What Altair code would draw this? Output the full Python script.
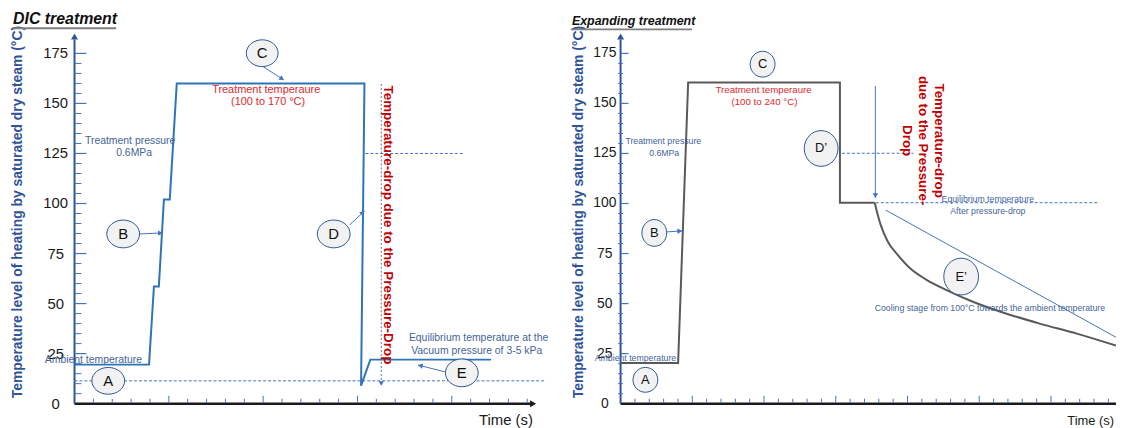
import math
import altair as alt
import pandas as pd

# ---------------- values ----------------
# DIC treatment: temperature profile (time in tick units, temperature in °C)
dic_time = [0, 3.95, 4.21, 4.47, 4.74, 5.05, 5.42, 15.37, 15.19, 15.68, 22.08]
dic_temp = [19.5, 19.5, 58.5, 58.5, 102, 102, 160, 160, 9, 22, 22]

# Expanding treatment: heating / holding / pressure drop
exp_time = [0, 4.01, 4.71, 15.29, 15.29, 17.72]
exp_temp = [20.3, 20.3, 160.5, 160.5, 100.4, 100.4]
# cooling stage curve
cool_time = [17.72, 17.9, 18.13, 18.62, 19.3, 20.2, 21.3, 22.8, 24.6, 26.8, 29.2, 31.8, 34.53]
cool_temp = [100.4, 95, 89.3, 81, 74.5, 67.5, 62, 56.5, 50.8, 45.2, 40, 35, 29]
# straight cooling guide line
guide_time = [18.48, 34.53]
guide_temp = [96.7, 33.2]

y_tick_values = [0, 25, 50, 75, 100, 125, 150, 175]
y_minor_values = [v for v in range(5, 175, 5) if v % 25]
dic_x_ticks = list(range(1, 25))
exp_x_ticks = list(range(1, 35))

dic_marker_labels = ["A", "B", "C", "D", "E"]
dic_marker_time = [1.79, 2.58, 9.95, 13.74, 20.53]
dic_marker_temp = [11.4, 84.8, 175.1, 84.8, 15.4]

exp_marker_labels = ["A", "B", "C", "D’", "E’"]
exp_marker_time = [1.73, 2.35, 9.90, 13.98, 23.74]
exp_marker_temp = [11.9, 85.3, 169.6, 127.5, 63.5]

# annotation texts and their anchors (time, temperature)
dic_red_notes = ["Treatment temperaure", "(100 to 170 °C)"]
dic_red_time = [10.16, 10.26]
dic_red_temp = [156.7, 150.8]
dic_blue_notes = ["Treatment pressure", "0.6MPa", "Ambient temperature",
                  "Equilibrium temperature at the", "Vacuum pressure of 3-5 kPa"]
dic_blue_time = [2.95, 3.16, 1.0, 21.42, 21.32]
dic_blue_temp = [131, 125, 21.8, 32.7, 26.3]
dic_drop_note = "Temperature-drop due to the Pressure-Drop"

exp_red_notes = ["Treatment temperaure", "(100 to 240 °C)"]
exp_red_time = [9.97, 10.03]
exp_red_temp = [156.7, 150.8]
exp_blue_notes = ["Treatment pressure", "0.6MPa", "Ambient temperature",
                  "Equilibrium temperature", "After pressure-drop",
                  "Cooling stage from 100°C towards the ambient temperature"]
exp_blue_time = [2.98, 3.04, 1.04, 25.6, 25.6, 25.74]
exp_blue_temp = [131.4, 125, 22.8, 102.2, 96.2, 47.6]
exp_drop_note = "Temperature-drop\ndue to the Pressure-\nDrop"

y_title = "Temperature level of heating by saturated dry steam (°C)"

# reference levels (dashed lines): start time, end time, temperature
dic_dash = [(0, 24.9, 11.4), (15.42, 20.68, 125)]
exp_dash = [(17.79, 33.36, 100.4), (15.43, 20.42, 125.1)]

# pointer arrows: (t1, v1) -> (t2, v2)
dic_arrows = [(9.95, 168.7, 11.1, 161.7), (3.47, 84.8, 4.68, 85.3),
              (14.58, 89.3, 15.37, 96.2), (19.63, 15.9, 18.21, 19.3)]
dic_drop_arrow = (16.26, 159.7, 16.26, 8.9)
exp_arrows = [(3.18, 85.8, 4.29, 86.3)]
exp_drop_arrow = (17.76, 158.7, 17.76, 102.8)

# ---------------- layout / style ----------------
W, H = 1116, 420
Y_DOM = [-11.41, 196.93]
L_DOM = [-3.526, 55.21]
R_DOM = [-42.699, 34.533]
KY = H / (Y_DOM[1] - Y_DOM[0])
KL = W / (L_DOM[1] - L_DOM[0])
KR = W / (R_DOM[1] - R_DOM[0])

SANS = "Liberation Sans, Arial, sans-serif"
BLUE = "#2E75B6"
AXBLUE = "#2F5597"
TICK = "#4472C4"
NOTE = "#44649A"
RED = "#C00000"
RED2 = "#E0282E"
GREY = "#595959"

dic_marker_size = [(33, 27), (33, 28), (32, 27), (33, 28), (33, 28)]
exp_marker_size = [(25, 25), (25, 27), (25, 26), (34, 36), (35, 37)]

Y = alt.Y("v:Q", scale=alt.Scale(domain=Y_DOM, nice=False, zero=False), axis=None)


def X(dom):
    return alt.X("t:Q", scale=alt.Scale(domain=dom, nice=False, zero=False), axis=None)


def df(**cols):
    return pd.DataFrame(cols)


def texts(x, labels, ts, vs, **mk):
    return alt.Chart(df(t=ts, v=vs, s=labels)).mark_text(**mk).encode(x=x, y=Y, text="s:N")


def segs(x, t1, v1, t2, v2, **mk):
    return alt.Chart(df(t=t1, v=v1, t2=t2, v2=v2)).mark_rule(**mk).encode(
        x=x, y=Y, x2="t2:Q", y2="v2:Q")


def line(x, ts, vs, **mk):
    return alt.Chart(df(t=ts, v=vs, i=list(range(len(ts))))).mark_line(**mk).encode(
        x=x, y=Y, order="i:Q")


def head(x, kx, arrow, color, size):
    t1, v1, t2, v2 = arrow
    dx = (t2 - t1) * kx
    dy = -(v2 - v1) * KY
    L = math.hypot(dx, dy)
    ang = math.degrees(math.atan2(dx, -dy)) % 360
    b = 0.433 * math.sqrt(size)
    tc = t2 - dx / L * b / kx
    vc = v2 + dy / L * b / KY
    return alt.Chart(df(t=[tc], v=[vc])).mark_point(
        shape="triangle-up", filled=True, size=size, angle=ang, color=color,
        opacity=1, strokeWidth=0).encode(x=x, y=Y)


def ellipse_path(r):
    k = 0.5523
    return (f"M 1 0 C 1 {k*r:.4f} {k:.4f} {r:.4f} 0 {r:.4f} "
            f"C {-k:.4f} {r:.4f} -1 {k*r:.4f} -1 0 "
            f"C -1 {-k*r:.4f} {-k:.4f} {-r:.4f} 0 {-r:.4f} "
            f"C {k:.4f} {-r:.4f} 1 {-k*r:.4f} 1 0 Z")


def markers(x, labels, ts, vs, sizes, fsize):
    out = []
    for lab, t, v, (w, h) in zip(labels, ts, vs, sizes):
        out.append(alt.Chart(df(t=[t], v=[v])).mark_point(
            shape=ellipse_path(h / w), size=w * w, filled=True, fill="#F2F2F2",
            stroke=AXBLUE, strokeWidth=1, opacity=1).encode(x=x, y=Y))
    out.append(texts(x, labels, ts, vs, font=SANS, fontSize=fsize, color="#111111",
                     align="center", baseline="middle"))
    return out


def panel(x, kx, side):
    L = []
    left = side == "L"
    # axes
    x_end = 24.2 if left else 35.0
    L.append(segs(x, [0], [0], [x_end], [0], color="#1a1a1a", strokeWidth=2.5))
    L.append(segs(x, [0], [0], [0], [182], color=AXBLUE, strokeWidth=2))
    L.append(head(x, kx, (0, 178, 0, 185), AXBLUE, 50))
    if left:
        L.append(head(x, kx, (23.5, 0, 24.47, 0), "#1a1a1a", 50))
    # y ticks
    L.append(alt.Chart(df(t=[0] * len(y_tick_values[1:]), v=y_tick_values[1:])).mark_tick(
        orient="horizontal", size=12 if left else 8, thickness=1.2, xOffset=6 if left else 4,
        color=TICK, opacity=1).encode(x=x, y=Y))
    L.append(alt.Chart(df(t=[0] * len(y_minor_values), v=y_minor_values)).mark_tick(
        orient="horizontal", size=7 if left else 5, thickness=1, xOffset=3.5 if left else 0,
        color=TICK, opacity=1).encode(x=x, y=Y))
    # x ticks
    xt = dic_x_ticks if left else exp_x_ticks
    maj = [t for t in xt if t % 5 == 0]
    mnr = [t for t in xt if t % 5]
    L.append(alt.Chart(df(t=mnr, v=[0] * len(mnr))).mark_tick(
        orient="vertical", size=4, thickness=1, yOffset=-3, color=TICK, opacity=1).encode(x=x, y=Y))
    L.append(alt.Chart(df(t=maj, v=[0] * len(maj))).mark_tick(
        orient="vertical", size=7, thickness=1, yOffset=-4.5, color=TICK, opacity=1).encode(x=x, y=Y))
    # y labels
    L.append(texts(x, [str(v) for v in y_tick_values], [-1.0 if left else -1.1] * 8, y_tick_values,
                   font=SANS, fontSize=15 if left else 14, color="#1a1a1a",
                   align="center", baseline="middle"))
    # y title
    L.append(texts(x, [y_title], [-3.0 if left else -2.91], [95.7], font=SANS,
                   fontSize=14, fontWeight="bold", color=AXBLUE, angle=270,
                   align="center", baseline="middle"))
    # x title
    L.append(texts(x, ["Time (s)"], [24.3 if left else 34.4], [-8.4 if left else -8.9],
                   font=SANS, fontSize=15 if left else 13, color="#1a1a1a",
                   align="right", baseline="middle"))
    # panel title + underline
    if left:
        L.append(texts(x, ["DIC treatment"], [-3.26], [192], font=SANS, fontSize=16,
                       fontWeight="bold", fontStyle="italic", color="#111111",
                       align="left", baseline="middle"))
        L.append(segs(x, [-3.26], [187.6], [2.21], [187.6], color="#808080", strokeWidth=2))
    else:
        L.append(texts(x, ["Expanding treatment"], [-3.39], [191], font=SANS, fontSize=12.5,
                       fontStyle="italic", fontWeight="bold", color="#111111",
                       align="left", baseline="middle"))
        L.append(segs(x, [-3.46], [187], [4.98], [187], color="#808080", strokeWidth=2))
    return L


xl = X(L_DOM)
xr = X(R_DOM)

# ---------- left panel: DIC treatment ----------
LL = panel(xl, KL, "L")
d = dic_dash
LL.append(segs(xl, [a for a, _, _ in d], [c for _, _, c in d], [b for _, b, _ in d],
               [c for _, _, c in d], color=TICK, strokeWidth=1, strokeDash=[3, 2]))
LL.append(line(xl, dic_time, dic_temp, color=BLUE, strokeWidth=2))
a = dic_drop_arrow
LL.append(segs(xl, [a[0]], [a[1]], [a[2]], [a[3]], color=TICK, strokeWidth=1, strokeDash=[2, 2]))
LL.append(head(xl, KL, a, TICK, 30))
for a in dic_arrows:
    LL.append(segs(xl, [a[0]], [a[1]], [a[2]], [a[3]], color=TICK, strokeWidth=1))
    LL.append(head(xl, KL, a, TICK, 30))
LL += markers(xl, dic_marker_labels, dic_marker_time, dic_marker_temp, dic_marker_size, 15)
LL.append(texts(xl, dic_red_notes, dic_red_time, dic_red_temp, font=SANS, fontSize=11,
                color=RED2, align="center", baseline="middle"))
LL.append(texts(xl, dic_blue_notes, dic_blue_time, dic_blue_temp, font=SANS, fontSize=10.5,
                color=NOTE, align="center", baseline="middle"))
LL.append(texts(xl, [dic_drop_note], [16.63], [89.3], font=SANS, fontSize=13.5,
                fontWeight="bold", color=RED, angle=90, align="center", baseline="middle"))

# ---------- right panel: Expanding treatment ----------
RL = panel(xr, KR, "R")
d = exp_dash
RL.append(segs(xr, [a for a, _, _ in d], [c for _, _, c in d], [b for _, b, _ in d],
               [c for _, _, c in d], color=TICK, strokeWidth=1, strokeDash=[3, 2]))
RL.append(line(xr, guide_time, guide_temp, color=TICK, strokeWidth=1))
RL.append(line(xr, exp_time, exp_temp, color=GREY, strokeWidth=2))
RL.append(line(xr, cool_time, cool_temp, color=GREY, strokeWidth=2, interpolate="monotone"))
a = exp_drop_arrow
RL.append(segs(xr, [a[0]], [a[1]], [a[2]], [a[3]], color=TICK, strokeWidth=1))
RL.append(head(xr, KR, a, TICK, 30))
for a in exp_arrows:
    RL.append(segs(xr, [a[0]], [a[1]], [a[2]], [a[3]], color=TICK, strokeWidth=1))
    RL.append(head(xr, KR, a, TICK, 30))
RL += markers(xr, exp_marker_labels, exp_marker_time, exp_marker_temp, exp_marker_size, 13)
RL.append(texts(xr, exp_red_notes, exp_red_time, exp_red_temp, font=SANS, fontSize=9.8,
                color=RED2, align="center", baseline="middle"))
RL.append(texts(xr, exp_blue_notes, exp_blue_time, exp_blue_temp, font=SANS, fontSize=8.8,
                color=NOTE, align="center", baseline="middle"))
RL.append(texts(xr, [exp_drop_note], [22.2], [131.4], font=SANS, fontSize=13.5,
                fontWeight="bold", color=RED, angle=90, align="center", baseline="middle",
                lineBreak="\n", lineHeight=16))

chart = alt.layer(alt.layer(*LL), alt.layer(*RL)).resolve_scale(x="independent").properties(
    width=W, height=H, padding=0, autosize=alt.AutoSizeParams(type="none")
).configure_view(stroke=None)

chart.save("out.html", embed_options={"renderer": "svg", "actions": False})
